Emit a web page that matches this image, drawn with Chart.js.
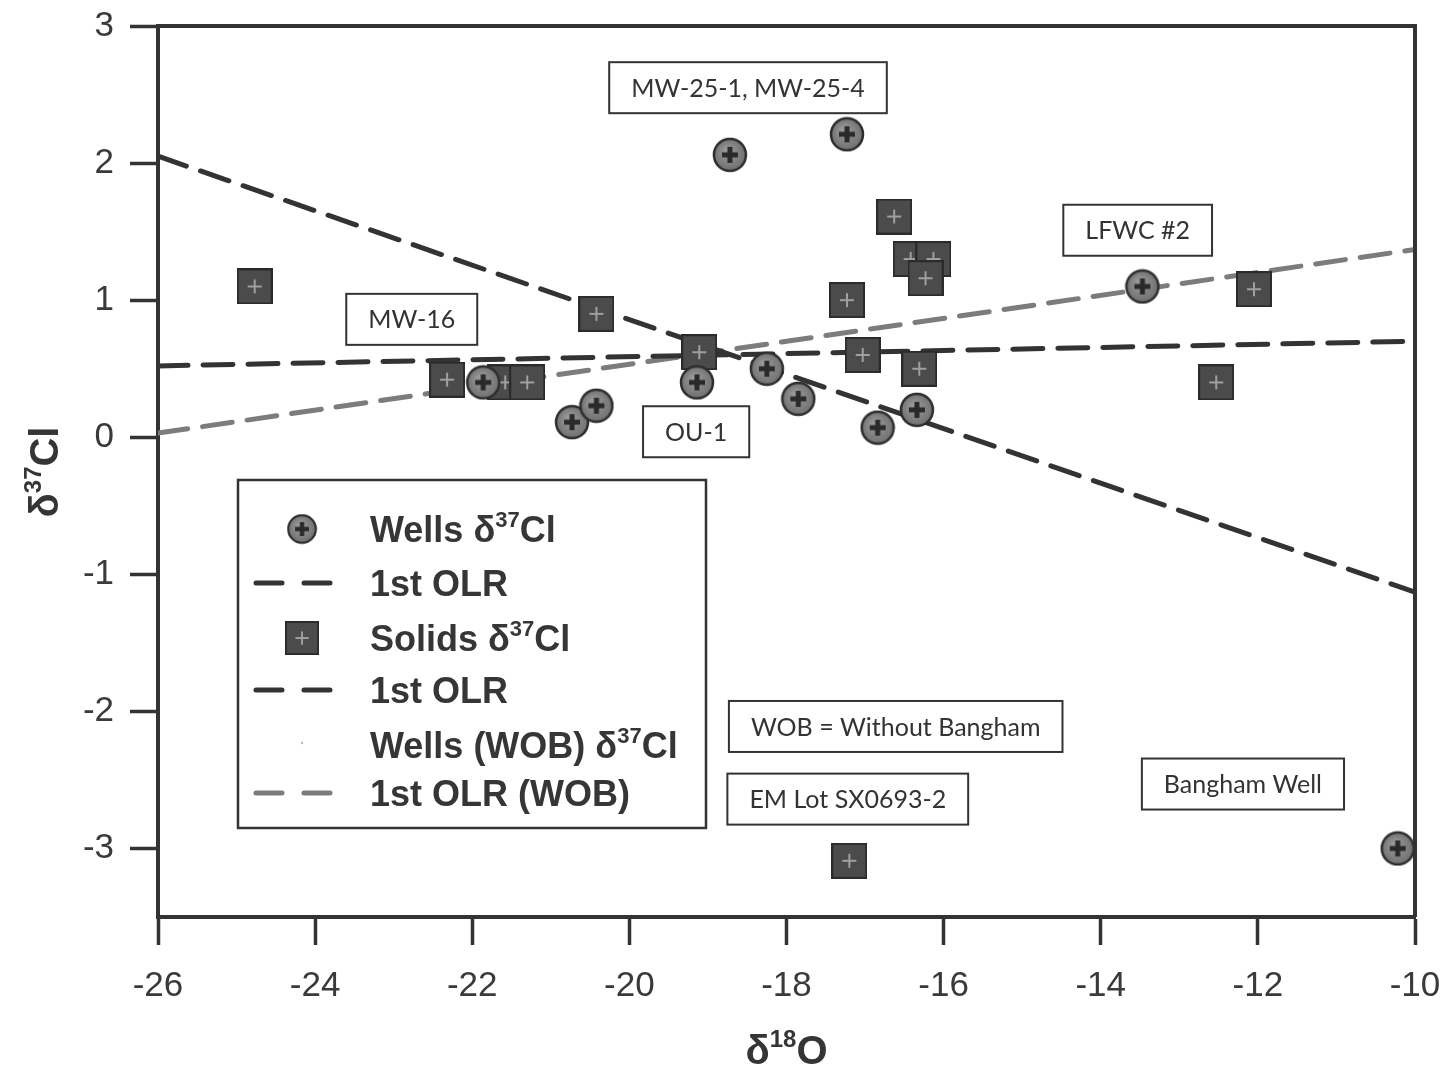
<!DOCTYPE html>
<html>
<head>
<meta charset="utf-8">
<script src="https://cdn.jsdelivr.net/npm/chart.js@4.4.1/dist/chart.umd.min.js"></script>
<style>
  html, body { margin: 0; padding: 0; background: #fff; }
  #wrap { width: 1443px; height: 1073px; position: relative; }
</style>
</head>
<body>
<div id="wrap"><canvas id="c"></canvas></div>
<script>
// values (x = d18O, y = d37Cl)
const wellsX = [-18.72, -17.23, -13.47, -21.86, -20.73, -20.42, -19.14, -18.25, -17.85, -16.84, -16.34, -10.22];
const wellsY = [2.06, 2.21, 1.10, 0.40, 0.11, 0.23, 0.40, 0.50, 0.28, 0.07, 0.20, -3.00];

const solidsX = [-24.77, -20.42, -22.32, -21.58, -21.30, -19.11, -17.23, -16.63, -16.42, -16.13, -16.23, -17.03, -16.31, -12.05, -12.53, -17.20];
const solidsY = [1.10, 0.90, 0.42, 0.40, 0.40, 0.62, 1.00, 1.61, 1.30, 1.30, 1.16, 0.60, 0.50, 1.08, 0.40, -3.09];

// wells without Bangham (last well dropped)
const wobX = wellsX.slice(0, -1);
const wobY = wellsY.slice(0, -1);

// fitted lines, end points at the axis limits
const lineX = [-26, -10];
const olrWellsY = [2.05, -1.13];
const olrSolidsY = [0.52, 0.70];
const olrWobY = [0.03, 1.37];

const xTicks = [-26, -24, -22, -20, -18, -16, -14, -12, -10];
const yTicks = [-3, -2, -1, 0, 1, 2, 3];

// text boxes on the plot
const noteText = ["MW-25-1, MW-25-4", "MW-16", "OU-1", "LFWC #2", "WOB = Without Bangham", "EM Lot SX0693-2", "Bangham Well"];
const noteX = [-18.49, -22.77, -19.15, -13.53, -16.61, -17.22, -12.19];
const noteY = [2.55, 0.86, 0.04, 1.51, -2.11, -2.64, -2.53];

const toPts = (xs, ys) => xs.map((x, i) => ({ x: x, y: ys[i] }));

// marker images
function wellMarker() {
  const c = document.createElement("canvas");
  c.width = 36; c.height = 36;
  const g = c.getContext("2d");
  const grad = g.createRadialGradient(15, 14, 2, 18, 18, 17);
  grad.addColorStop(0, "#9a9a9a");
  grad.addColorStop(1, "#6e6e6e");
  g.fillStyle = grad;
  g.beginPath(); g.arc(18, 18, 16, 0, Math.PI * 2); g.fill();
  g.lineWidth = 2.5; g.strokeStyle = "#2e2e2e"; g.stroke();
  g.strokeStyle = "#2a2a2a"; g.lineWidth = 5; g.lineCap = "butt";
  g.beginPath(); g.moveTo(10, 18); g.lineTo(26, 18); g.moveTo(18, 10); g.lineTo(18, 26); g.stroke();
  return c;
}
function solidMarker() {
  const c = document.createElement("canvas");
  c.width = 36; c.height = 36;
  const g = c.getContext("2d");
  g.fillStyle = "#4b4b4b";
  g.fillRect(1, 1, 34, 34);
  g.strokeStyle = "#2b2b2b"; g.lineWidth = 2;
  g.strokeRect(1, 1, 34, 34);
  g.strokeStyle = "#a0a0a0"; g.lineWidth = 2;
  g.beginPath(); g.moveTo(11, 18); g.lineTo(25, 18); g.moveTo(18, 11); g.lineTo(18, 25); g.stroke();
  return c;
}
const wellImg = wellMarker();
const solidImg = solidMarker();

const DARK = "#333333";
const GREY = "#7c7c7c";
const SANS = "'Liberation Sans', Arial, sans-serif";

// text with superscript parts, e.g. [["Wells δ"], ["37", true], ["Cl"]]
function drawRich(ctx, parts, x, y, size, align) {
  const supSize = Math.round(size * 0.6);
  let w = 0;
  parts.forEach(p => {
    ctx.font = "bold " + (p[1] ? supSize : size) + "px " + SANS;
    w += ctx.measureText(p[0]).width;
  });
  let cx = align === "center" ? x - w / 2 : x;
  ctx.textAlign = "left";
  ctx.textBaseline = "alphabetic";
  parts.forEach(p => {
    ctx.font = "bold " + (p[1] ? supSize : size) + "px " + SANS;
    ctx.fillText(p[0], cx, p[1] ? y - size * 0.42 : y);
    cx += ctx.measureText(p[0]).width;
  });
}

const extras = {
  id: "extras",
  afterDatasetsDraw(chart) {
    const ctx = chart.ctx;
    const xs = chart.scales.x, ys = chart.scales.y;
    ctx.save();

    // note boxes
    ctx.font = "25px Lato, 'Open Sans', sans-serif";
    noteText.forEach((t, i) => {
      const px = xs.getPixelForValue(noteX[i]);
      const py = ys.getPixelForValue(noteY[i]);
      const w = ctx.measureText(t).width + 44;
      const h = 51;
      ctx.fillStyle = "#fff";
      ctx.fillRect(px - w / 2, py - h / 2, w, h);
      ctx.strokeStyle = DARK; ctx.lineWidth = 2;
      ctx.strokeRect(px - w / 2, py - h / 2, w, h);
      ctx.fillStyle = "#333";
      ctx.textAlign = "center"; ctx.textBaseline = "middle";
      ctx.fillText(t, px, py + 1);
    });

    // legend
    const lx = 238, ly = 480, lw = 468, lh = 348;
    ctx.fillStyle = "#fff";
    ctx.fillRect(lx, ly, lw, lh);
    ctx.strokeStyle = DARK; ctx.lineWidth = 2.5;
    ctx.strokeRect(lx, ly, lw, lh);
    const rows = [
      { kind: "img", img: wellImg, text: [["Wells δ"], ["37", true], ["Cl"]] },
      { kind: "line", color: DARK, text: [["1st OLR"]] },
      { kind: "img", img: solidImg, text: [["Solids δ"], ["37", true], ["Cl"]] },
      { kind: "line", color: DARK, text: [["1st OLR"]] },
      { kind: "dot", text: [["Wells (WOB) δ"], ["37", true], ["Cl"]] },
      { kind: "line", color: GREY, text: [["1st OLR (WOB)"]] }
    ];
    const rowY = [529, 583, 638, 690, 745, 793];
    rows.forEach((r, i) => {
      const y = rowY[i];
      if (r.kind === "img") {
        const s = r.img === solidImg ? 34 : 31;
        ctx.drawImage(r.img, 302 - s / 2, y - s / 2, s, s);
      } else if (r.kind === "line") {
        ctx.strokeStyle = r.color; ctx.lineWidth = 5; ctx.lineCap = "round";
        ctx.beginPath();
        ctx.moveTo(256, y); ctx.lineTo(282, y);
        ctx.moveTo(304, y); ctx.lineTo(330, y);
        ctx.stroke();
      } else {
        ctx.fillStyle = "#bbb";
        ctx.beginPath(); ctx.arc(302, y - 2, 1.2, 0, Math.PI * 2); ctx.fill();
      }
      ctx.fillStyle = "#363636";
      drawRich(ctx, r.text, 370, y + 13, 36, "left");
    });

    ctx.restore();
  },
  afterDraw(chart) {
    const ctx = chart.ctx;
    const a = chart.chartArea;
    ctx.save();
    // top and right frame
    ctx.strokeStyle = DARK; ctx.lineWidth = 4;
    ctx.beginPath();
    ctx.moveTo(a.left, a.top); ctx.lineTo(a.right, a.top); ctx.lineTo(a.right, a.bottom);
    ctx.stroke();
    // axis titles
    ctx.fillStyle = "#353535";
    drawRich(ctx, [["δ"], ["18", true], ["O"]], (a.left + a.right) / 2, 1064, 40, "center");
    ctx.translate(58, 472);
    ctx.rotate(-Math.PI / 2);
    drawRich(ctx, [["δ"], ["37", true], ["Cl"]], 0, 0, 40, "center");
    ctx.restore();
  }
};

const lineDs = (ys, color, label) => ({
  type: "line",
  label: label,
  data: toPts(lineX, ys),
  borderColor: color,
  borderWidth: 5,
  borderDash: [30, 15],
  borderCapStyle: "round",
  pointRadius: 0,
  fill: false,
  order: 5
});

// keep the plot box fixed: no extra room for edge labels
const noEdgePad = s => { s.paddingTop = 0; s.paddingBottom = 0; s.paddingLeft = 0; s.paddingRight = 0; };

new Chart(document.getElementById("c"), {
  type: "scatter",
  data: {
    datasets: [
      lineDs(olrWellsY, DARK, "1st OLR"),
      lineDs(olrSolidsY, DARK, "1st OLR"),
      lineDs(olrWobY, GREY, "1st OLR (WOB)"),
      {
        label: "Solids δ37Cl",
        data: toPts(solidsX, solidsY),
        pointStyle: solidImg,
        pointRadius: 17,
        order: 3
      },
      {
        label: "Wells δ37Cl",
        data: toPts(wellsX, wellsY),
        pointStyle: wellImg,
        pointRadius: 17,
        order: 2
      },
      {
        label: "Wells (WOB) δ37Cl",
        data: toPts(wobX, wobY),
        pointRadius: 1,
        backgroundColor: "#bbb",
        borderWidth: 0,
        order: 4
      }
    ]
  },
  options: {
    responsive: true,
    maintainAspectRatio: false,
    animation: false,
    layout: { padding: { left: 0, top: 26, right: 28, bottom: 0 } },
    plugins: {
      legend: { display: false },
      tooltip: { enabled: false }
    },
    scales: {
      x: {
        type: "linear",
        min: -26,
        max: -10,
        afterBuildTicks: s => { s.ticks = xTicks.map(v => ({ value: v })); },
        afterFit: s => { s.height = 156; noEdgePad(s); },
        ticks: { color: "#3a3a3a", font: { size: 35, family: SANS }, padding: 20, maxRotation: 0 },
        grid: { drawOnChartArea: false, drawTicks: true, tickLength: 28, tickWidth: 3.5, tickColor: DARK },
        border: { display: true, color: DARK, width: 4 }
      },
      y: {
        type: "linear",
        min: -3.5,
        max: 3,
        afterBuildTicks: s => { s.ticks = yTicks.map(v => ({ value: v })); },
        afterFit: s => { s.width = 158; noEdgePad(s); },
        ticks: { color: "#3a3a3a", font: { size: 35, family: SANS }, padding: 16 },
        grid: { drawOnChartArea: false, drawTicks: true, tickLength: 28, tickWidth: 3.5, tickColor: DARK },
        border: { display: true, color: DARK, width: 4 }
      }
    }
  },
  plugins: [extras]
});
</script>
</body>
</html>
